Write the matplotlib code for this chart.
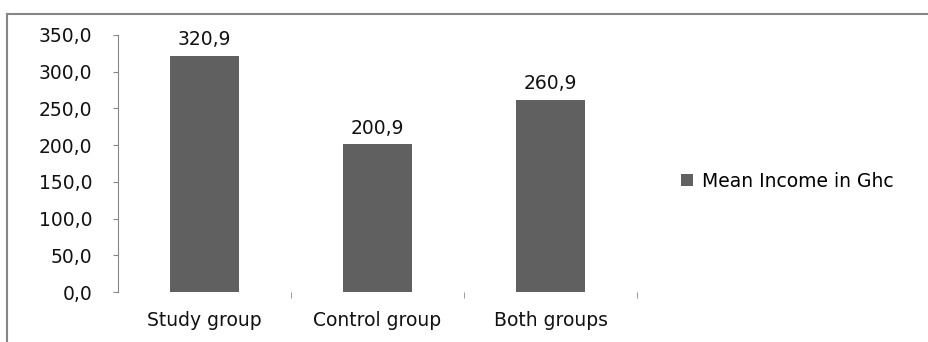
import matplotlib.pyplot as plt
from matplotlib.lines import Line2D
from matplotlib.ticker import FixedLocator

categories = ["Study group", "Control group", "Both groups"]
mean_income = [320.9, 200.9, 260.9]
series_name = "Mean Income in Ghc"

plt.rcParams['font.family'] = ['DejaVu Sans']
FS = 13.5

fig = plt.figure(figsize=(9.29, 3.42), dpi=100)
W, H = 929, 342
ax = fig.add_axes([118 / W, (342 - 292) / H, (637 - 118) / W, (292 - 35) / H])

x = range(len(categories))
bars = ax.bar(x, mean_income, width=0.4, color="#606060", label=series_name)
for b, v in zip(bars, mean_income):
    ax.annotate(f"{v:.1f}".replace(".", ","), (b.get_x() + b.get_width() / 2, v),
                xytext=(0, 5), textcoords="offset points", ha="center", va="bottom",
                fontsize=FS, color="#111111")

ax.set_xlim(-0.5, 2.5)
ax.set_ylim(0, 350)
ax.set_yticks(range(0, 351, 50))
ax.set_yticklabels([f"{t:.1f}".replace(".", ",") for t in range(0, 351, 50)])
ax.set_xticks(list(x))
ax.set_xticklabels(categories)
ax.xaxis.set_minor_locator(FixedLocator([0.5, 1.5, 2.5]))
ax.tick_params(axis="x", which="major", length=0, pad=14, labelsize=FS, labelcolor="#111111")
ax.tick_params(axis="x", which="minor", length=4, color="#868686", direction="out")
ax.tick_params(axis="y", length=3.6, color="#868686", pad=15, labelsize=FS, labelcolor="#111111")
for s in ["top", "right", "bottom"]:
    ax.spines[s].set_visible(False)
ax.spines["left"].set_color("#868686")

fig.legend(handles=[bars], labels=[series_name], loc="center left",
           bbox_to_anchor=(664 / W, 1 - 181 / H), frameon=False, fontsize=FS,
           handlelength=0.65, handleheight=0.65, handletextpad=0.5)

# outer chart frame
fig.add_artist(Line2D([7 / W, 7 / W], [0, 1 - 14 / H], transform=fig.transFigure, color="#868686", lw=1.5))
fig.add_artist(Line2D([7 / W, 1], [1 - 14 / H, 1 - 14 / H], transform=fig.transFigure, color="#868686", lw=1.5))

fig.savefig("out.png", dpi=100)
